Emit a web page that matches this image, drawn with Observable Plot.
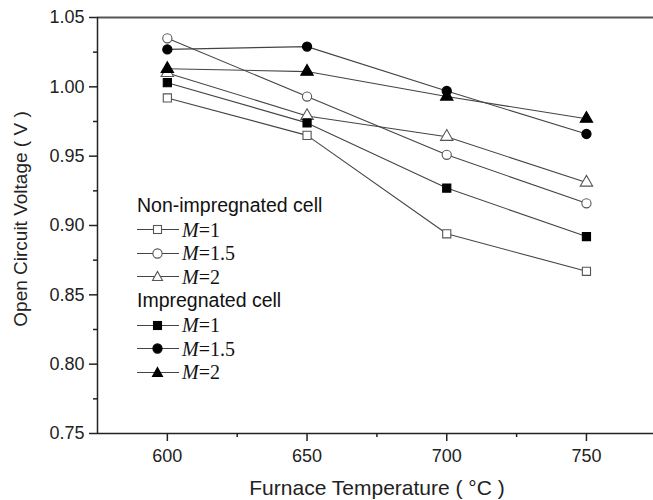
<!DOCTYPE html>
<html>
<head>
<meta charset="utf-8">
<script src="https://cdn.jsdelivr.net/npm/d3@7"></script>
<script src="https://cdn.jsdelivr.net/npm/@observablehq/plot@0.6"></script>
<style>
  body { margin: 0; background: #fff; font-family: "Liberation Sans", Arial, sans-serif; }
  #wrap { position: relative; width: 653px; height: 500px; overflow: hidden; }
  .leg { position: absolute; left: 137px; font-size: 19.5px; color: #111; line-height: 1; }
  .leg .row { display: flex; align-items: center; height: 23.5px; }
  .leg .hdr { height: 25px; display: flex; align-items: center; }
  .leg .m { font-family: "Liberation Serif", "Times New Roman", serif; font-size: 20px; margin-left: 3px; }
  .ytitle { position: absolute; left: 20px; top: 219px; transform: translate(-50%, -50%) rotate(-90deg);
            white-space: nowrap; font-size: 19px; color: #222; line-height: 1; }
  .xtitle { position: absolute; left: 377px; top: 487px; transform: translate(-50%, -50%);
            white-space: nowrap; font-size: 21px; color: #222; line-height: 1; }
</style>
</head>
<body>
<div id="wrap"></div>
<script>
const temperatures = [600, 650, 700, 750];
const seriesNames = ["Non-impregnated M=1", "Non-impregnated M=1.5", "Non-impregnated M=2",
                     "Impregnated M=1", "Impregnated M=1.5", "Impregnated M=2"];
const nonImpM1   = [0.992, 0.965, 0.894, 0.867];
const nonImpM15  = [1.035, 0.993, 0.951, 0.916];
const nonImpM2   = [1.010, 0.979, 0.964, 0.931];
const impM1      = [1.003, 0.974, 0.927, 0.892];
const impM15     = [1.027, 1.029, 0.997, 0.966];
const impM2      = [1.013, 1.011, 0.993, 0.977];
const seriesValues = [nonImpM1, nonImpM15, nonImpM2, impM1, impM15, impM2];
const seriesSymbols = ["square", "circle", "triangle", "square", "circle", "triangle"];
const seriesFilled = [false, false, false, true, true, true];
const yTicks = [0.75, 0.80, 0.85, 0.90, 0.95, 1.00, 1.05];
const yMinor = [0.775, 0.825, 0.875, 0.925, 0.975, 1.025];
const xTicks = [600, 650, 700, 750];
const xMinor = [625, 675, 725];
const legendHeaders = ["Non-impregnated cell", "Impregnated cell"];
const legendLabels = ["1", "1.5", "2"];
const yTitle = "Open Circuit Voltage ( V )";
const xTitle = "Furnace Temperature ( °C )";

const data = [];
seriesNames.forEach((s, i) => temperatures.forEach((t, j) => data.push({
  series: s, t, v: seriesValues[i][j], symbol: seriesSymbols[i], filled: seriesFilled[i]
})));

const font = "Liberation Sans, Arial, sans-serif";
const chart = Plot.plot({
  width: 653, height: 500,
  marginLeft: 97, marginRight: 0, marginTop: 17, marginBottom: 67,
  style: { fontFamily: font, fontSize: "18px", color: "#222", background: "#fff" },
  x: { domain: [575, 774] },
  y: { domain: [0.75, 1.05] },
  marks: [
    Plot.line(data, { x: "t", y: "v", z: "series", stroke: "#444", strokeWidth: 1.1 }),
    Plot.dot(data, {
      x: "t", y: "v", symbol: "symbol", r: 4.6,
      fill: d => d.filled ? "#000" : "#fff",
      stroke: d => d.filled ? "#000" : "#555", strokeWidth: 1.1
    }),
    Plot.ruleY([1.05], { stroke: "#555", strokeWidth: 2 }),
    Plot.ruleY([0.75], { stroke: "#222", strokeWidth: 1.5 }),
    Plot.ruleX([575], { stroke: "#222", strokeWidth: 1.5 }),
    Plot.axisY({ ticks: yTicks, tickFormat: d3.format(".2f"), tickSize: 8, tickPadding: 5, fontSize: 18, label: null, stroke: "#222", strokeWidth: 1.5 }),
    Plot.axisY({ ticks: yMinor, tickSize: 4, text: null, label: null, stroke: "#222", strokeWidth: 1.5 }),
    Plot.axisX({ ticks: xTicks, tickSize: 8, tickPadding: 8, fontSize: 18, label: null, stroke: "#222", strokeWidth: 1.5 }),
    Plot.axisX({ ticks: xMinor, tickSize: 4, text: null, label: null, stroke: "#222", strokeWidth: 1.5 })
  ]
});
const wrap = document.getElementById("wrap");
wrap.appendChild(chart);

const yt = document.createElement("div");
yt.className = "ytitle"; yt.textContent = yTitle; wrap.appendChild(yt);
const xt = document.createElement("div");
xt.className = "xtitle"; xt.textContent = xTitle; wrap.appendChild(xt);

// Legend overlay
function sym(kind, filled) {
  const f = filled ? "#000" : "#fff", s = filled ? "#000" : "#555";
  let shape;
  if (kind === "square") shape = `<rect x="16.5" y="4.5" width="8" height="8" fill="${f}" stroke="${s}" stroke-width="1.1"/>`;
  else if (kind === "circle") shape = `<circle cx="20.5" cy="8.5" r="4.6" fill="${f}" stroke="${s}" stroke-width="1.1"/>`;
  else shape = `<path d="M20.5,3.5 L25.5,12.5 L15.5,12.5 Z" fill="${f}" stroke="${s}" stroke-width="1.1"/>`;
  return `<svg width="42" height="17" style="overflow:visible"><line x1="0" y1="8.5" x2="42" y2="8.5" stroke="#444" stroke-width="1.1"/>${shape}</svg>`;
}
const leg = document.createElement("div");
leg.className = "leg";
leg.style.top = "193px";
let html = "";
legendHeaders.forEach((h, gi) => {
  html += `<div class="hdr">${h}</div>`;
  legendLabels.forEach((l, k) => {
    const idx = gi * 3 + k;
    html += `<div class="row">${sym(seriesSymbols[idx], seriesFilled[idx])}<span class="m"><i>M</i>=${l}</span></div>`;
  });
});
leg.innerHTML = html;
wrap.appendChild(leg);
</script>
</body>
</html>
